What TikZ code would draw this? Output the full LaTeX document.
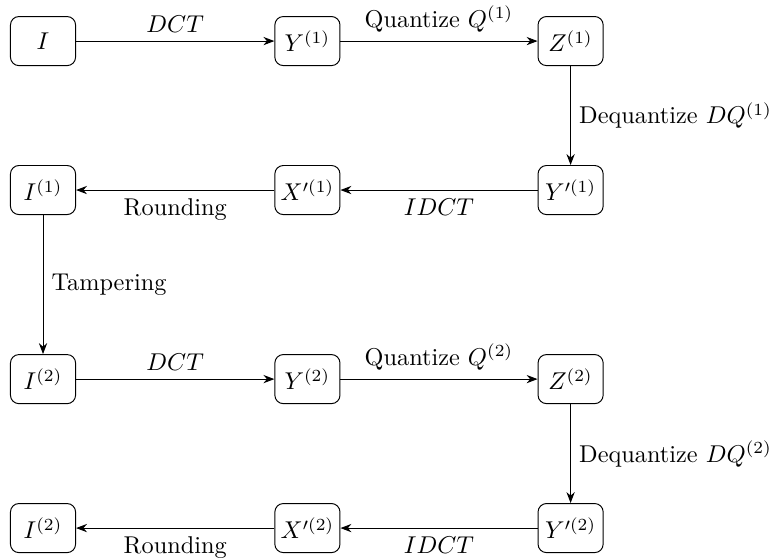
\documentclass[tikz,border=0pt]{standalone}
\usetikzlibrary{arrows.meta}
\begin{document}
\begin{tikzpicture}[x=1pt,y=-1pt,
  box/.style={draw, rounded corners=3.5pt, minimum width=26.8pt, minimum height=20.2pt, inner sep=1pt},
  arr/.style={-{Stealth[length=4.5pt,width=3.4pt]}},
]
\useasboundingbox (0,0) rectangle (318.5,230);
% columns: 17.7, 126.5, 234.8 ; rows: 16.9, 78.2, 156, 217.3
\node[box] (I)    at (17.7,16.9)  {$I$};
\node[box] (Y1)   at (126.5,16.9) {$Y^{(1)}$};
\node[box] (Z1)   at (234.8,16.9) {$Z^{(1)}$};
\node[box] (Yp1)  at (234.8,78.2) {$Y'^{(1)}$};
\node[box] (Xp1)  at (126.5,78.2) {$X'^{(1)}$};
\node[box] (I1)   at (17.7,78.2)  {$I^{(1)}$};
\node[box] (I2)   at (17.7,156)   {$I^{(2)}$};
\node[box] (Y2)   at (126.5,156)  {$Y^{(2)}$};
\node[box] (Z2)   at (234.8,156)  {$Z^{(2)}$};
\node[box] (Yp2)  at (234.8,217.3) {$Y'^{(2)}$};
\node[box] (Xp2)  at (126.5,217.3) {$X'^{(2)}$};
\node[box] (I2b)  at (17.7,217.3) {$I^{(2)}$};

\draw[arr] (I) -- node[above] {$DCT$} (Y1);
\draw[arr] (Y1) -- node[above] {Quantize $Q^{(1)}$} (Z1);
\draw[arr] (Z1) -- node[right] {Dequantize $DQ^{(1)}$} (Yp1);
\draw[arr] (Yp1) -- node[below] {$IDCT$} (Xp1);
\draw[arr] (Xp1) -- node[below] {Rounding} (I1);
\draw[arr] (I1) -- node[right] {Tampering} (I2);
\draw[arr] (I2) -- node[above] {$DCT$} (Y2);
\draw[arr] (Y2) -- node[above] {Quantize $Q^{(2)}$} (Z2);
\draw[arr] (Z2) -- node[right] {Dequantize $DQ^{(2)}$} (Yp2);
\draw[arr] (Yp2) -- node[below] {$IDCT$} (Xp2);
\draw[arr] (Xp2) -- node[below] {Rounding} (I2b);
\end{tikzpicture}
\end{document}
